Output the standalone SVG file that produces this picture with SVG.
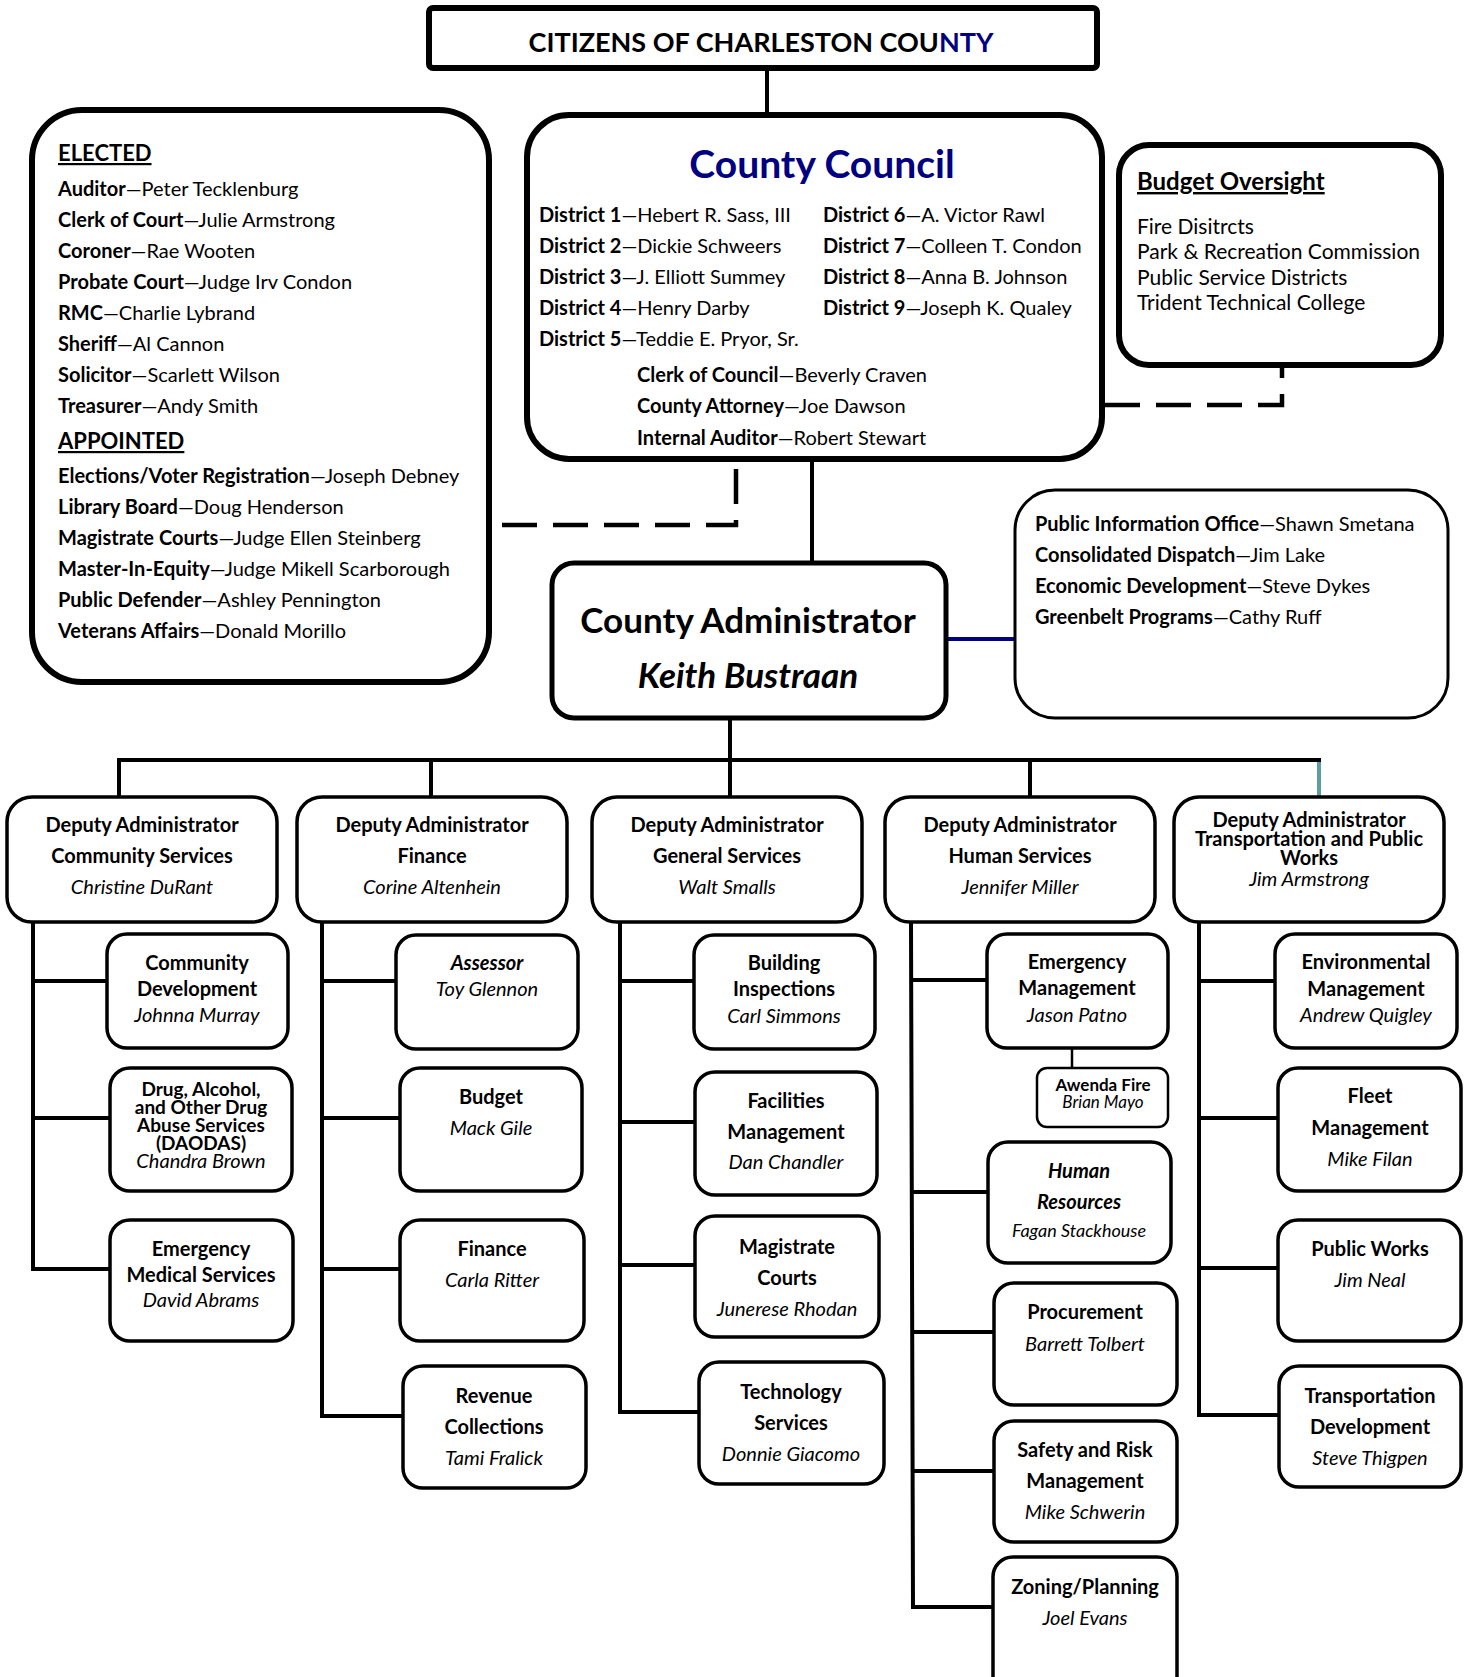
<svg xmlns="http://www.w3.org/2000/svg" width="1464" height="1677" viewBox="0 0 1464 1677">
<style>
text{font-family:Lato,"Open Sans","Liberation Sans",sans-serif;fill:#000;font-size:20px}
.b{font-weight:700}
.i{font-style:italic}
.c{text-anchor:middle}
.box{fill:#fff;stroke:#000;stroke-width:3.5}
.big{fill:#fff;stroke:#000;stroke-width:6}
.ln{fill:none;stroke:#000;stroke-width:4}
.dash{fill:none;stroke:#000;stroke-width:4.5;stroke-dasharray:35 16}
.u{text-decoration:underline;font-size:22px;font-weight:700}
.navy{fill:#000080}
.s18{font-size:18px}
.s19{font-size:19px}
.s17{font-size:17px}
</style>
<rect width="1464" height="1677" fill="#fff"/>
<g id="connectors">
<path class="ln" d="M767,68 V115"/>
<path class="ln" d="M812,459 V563"/>
<path class="dash" d="M502,525 H736 V460"/>
<path class="dash" d="M1105,405 H1282 V366"/>
<path d="M946,639 H1015" stroke="#000080" stroke-width="4" fill="none"/>
<path class="ln" d="M730,718 V760"/>
<path class="ln" d="M119,797 V760 H1321"/>
<path class="ln" d="M431,760 V797 M730,760 V797 M1030,760 V797"/>
<path d="M1319,762 V797" stroke="#5f9ea0" stroke-width="4" fill="none"/>
<path class="ln" d="M33,923 V1269 H110 M33,981 H107 M33,1118 H110"/>
<path class="ln" d="M322,923 V1416 H403 M322,981 H396 M322,1118 H400 M322,1269 H400"/>
<path class="ln" d="M620,923 V1412 H699 M620,981 H694 M620,1122 H695 M620,1265 H695"/>
<path class="ln" d="M911,923 L913,1607 H993 M911,980 H987 M912,1192 H988 M912,1332 H994 M913,1471 H994"/>
<path d="M1072,1048 V1068" stroke="#000" stroke-width="2.5" fill="none"/>
<path class="ln" d="M1199,923 V1415 H1279 M1199,981 H1275 M1199,1118 H1278 M1199,1268 H1278"/>
</g>
<g id="citizens">
<rect class="big" x="429" y="8" width="668" height="60" rx="4"/>
<text class="b c" x="761" y="52" style="font-size:27px">CITIZENS OF CHARLESTON COU<tspan class="navy">NTY</tspan></text>
</g>
<g id="elected">
<rect class="big" x="32" y="110" width="457" height="572" rx="50"/>
<text class="u" x="58" y="161">ELECTED</text>
<text x="58" y="196"><tspan class="b">Auditor</tspan>—Peter Tecklenburg</text>
<text x="58" y="227"><tspan class="b">Clerk of Court</tspan>—Julie Armstrong</text>
<text x="58" y="258"><tspan class="b">Coroner</tspan>—Rae Wooten</text>
<text x="58" y="289"><tspan class="b">Probate Court</tspan>—Judge Irv Condon</text>
<text x="58" y="320"><tspan class="b">RMC</tspan>—Charlie Lybrand</text>
<text x="58" y="351"><tspan class="b">Sheriff</tspan>—Al Cannon</text>
<text x="58" y="382"><tspan class="b">Solicitor</tspan>—Scarlett Wilson</text>
<text x="58" y="413"><tspan class="b">Treasurer</tspan>—Andy Smith</text>
<text class="u" x="58" y="449">APPOINTED</text>
<text x="58" y="483"><tspan class="b">Elections/Voter Registration</tspan>—Joseph Debney</text>
<text x="58" y="514"><tspan class="b">Library Board</tspan>—Doug Henderson</text>
<text x="58" y="545"><tspan class="b">Magistrate Courts</tspan>—Judge Ellen Steinberg</text>
<text x="58" y="576"><tspan class="b">Master-In-Equity</tspan>—Judge Mikell Scarborough</text>
<text x="58" y="607"><tspan class="b">Public Defender</tspan>—Ashley Pennington</text>
<text x="58" y="638"><tspan class="b">Veterans Affairs</tspan>—Donald Morillo</text>
</g>
<g id="council">
<rect class="big" x="527" y="115" width="575" height="344" rx="42"/>
<text class="b c navy" x="822" y="178" style="font-size:39px">County Council</text>
<text x="539" y="222"><tspan class="b">District 1</tspan>—Hebert R. Sass, III</text>
<text x="539" y="253"><tspan class="b">District 2</tspan>—Dickie Schweers</text>
<text x="539" y="284"><tspan class="b">District 3</tspan>—J. Elliott Summey</text>
<text x="539" y="315"><tspan class="b">District 4</tspan>—Henry Darby</text>
<text x="539" y="346"><tspan class="b">District 5</tspan>—Teddie E. Pryor,  Sr.</text>
<text x="823" y="222"><tspan class="b">District 6</tspan>—A. Victor Rawl</text>
<text x="823" y="253"><tspan class="b">District 7</tspan>—Colleen T. Condon</text>
<text x="823" y="284"><tspan class="b">District 8</tspan>—Anna B. Johnson</text>
<text x="823" y="315"><tspan class="b">District 9</tspan>—Joseph K. Qualey</text>
<text x="637" y="382"><tspan class="b">Clerk of Council</tspan>—Beverly Craven</text>
<text x="637" y="413"><tspan class="b">County Attorney</tspan>—Joe Dawson</text>
<text x="637" y="445"><tspan class="b">Internal Auditor</tspan>—Robert Stewart</text>
</g>
<g id="budget-oversight">
<rect class="big" x="1119" y="145" width="322" height="220" rx="30"/>
<text class="u" x="1137" y="190" style="font-size:24px">Budget Oversight</text>
<text x="1137" y="234" style="font-size:21px">Fire Disitrcts</text>
<text x="1137" y="259" style="font-size:21px">Park &amp; Recreation Commission</text>
<text x="1137" y="285" style="font-size:21px">Public Service Districts</text>
<text x="1137" y="310" style="font-size:21px">Trident Technical College</text>
</g>
<g id="administrator">
<rect class="box" x="552" y="563" width="394" height="155" rx="22" style="stroke-width:5"/>
<text class="b c" x="748" y="633" style="font-size:35px">County Administrator</text>
<text class="b i c" x="748" y="688" style="font-size:35px">Keith Bustraan</text>
</g>
<g id="staff-offices">
<rect class="box" x="1015" y="490" width="433" height="228" rx="40" style="stroke-width:3"/>
<text x="1035" y="531"><tspan class="b">Public Information Office</tspan>—Shawn Smetana</text>
<text x="1035" y="562"><tspan class="b">Consolidated Dispatch</tspan>—Jim Lake</text>
<text x="1035" y="593"><tspan class="b">Economic Development</tspan>—Steve Dykes</text>
<text x="1035" y="624"><tspan class="b">Greenbelt Programs</tspan>—Cathy Ruff</text>
</g>
<g id="deputy-community">
<rect class="box" x="7" y="797" width="270" height="125" rx="25"/>
<text class="b c" x="142" y="832">Deputy Administrator</text>
<text class="b c" x="142" y="863">Community Services</text>
<text class="i c" x="142" y="894">Christine DuRant</text>
</g>
<g id="deputy-finance">
<rect class="box" x="297" y="797" width="270" height="125" rx="25"/>
<text class="b c" x="432" y="832">Deputy Administrator</text>
<text class="b c" x="432" y="863">Finance</text>
<text class="i c" x="432" y="894">Corine Altenhein</text>
</g>
<g id="deputy-general">
<rect class="box" x="592" y="797" width="270" height="125" rx="25"/>
<text class="b c" x="727" y="832">Deputy Administrator</text>
<text class="b c" x="727" y="863">General Services</text>
<text class="i c" x="727" y="894">Walt Smalls</text>
</g>
<g id="deputy-human">
<rect class="box" x="885" y="797" width="270" height="125" rx="25"/>
<text class="b c" x="1020" y="832">Deputy Administrator</text>
<text class="b c" x="1020" y="863">Human Services</text>
<text class="i c" x="1020" y="894">Jennifer Miller</text>
</g>
<g id="deputy-transportation">
<rect class="box" x="1174" y="797" width="270" height="125" rx="25"/>
<text class="b c" x="1309" y="827">Deputy Administrator</text>
<text class="b c" x="1309" y="846">Transportation and Public</text>
<text class="b c" x="1309" y="865">Works</text>
<text class="i c" x="1309" y="886">Jim Armstrong</text>
</g>
<g id="community-development">
<rect class="box" x="107" y="934" width="181" height="114" rx="20"/>
<text class="b c" x="197" y="970">Community</text>
<text class="b c" x="197" y="996">Development</text>
<text class="i c" x="197" y="1022">Johnna Murray</text>
</g>
<g id="daodas">
<rect class="box" x="110" y="1068" width="182" height="123" rx="20"/>
<text class="b c s19" x="201" y="1096">Drug, Alcohol,</text>
<text class="b c s19" x="201" y="1114">and Other Drug</text>
<text class="b c s19" x="201" y="1132">Abuse Services</text>
<text class="b c s19" x="201" y="1150">(DAODAS)</text>
<text class="i c" x="201" y="1168">Chandra Brown</text>
</g>
<g id="ems">
<rect class="box" x="110" y="1220" width="183" height="121" rx="20"/>
<text class="b c" x="201" y="1256">Emergency</text>
<text class="b c" x="201" y="1282">Medical Services</text>
<text class="i c" x="201" y="1307">David Abrams</text>
</g>
<g id="assessor">
<rect class="box" x="396" y="935" width="182" height="114" rx="20"/>
<text class="b i c" x="487" y="970">Assessor</text>
<text class="i c" x="487" y="996">Toy Glennon</text>
</g>
<g id="budget">
<rect class="box" x="400" y="1068" width="182" height="123" rx="20"/>
<text class="b c" x="491" y="1104">Budget</text>
<text class="i c" x="491" y="1135">Mack Gile</text>
</g>
<g id="finance">
<rect class="box" x="400" y="1220" width="184" height="121" rx="20"/>
<text class="b c" x="492" y="1256">Finance</text>
<text class="i c" x="492" y="1287">Carla Ritter</text>
</g>
<g id="revenue">
<rect class="box" x="403" y="1366" width="183" height="122" rx="20"/>
<text class="b c" x="494" y="1403">Revenue</text>
<text class="b c" x="494" y="1434">Collections</text>
<text class="i c" x="494" y="1465">Tami Fralick</text>
</g>
<g id="building">
<rect class="box" x="694" y="935" width="181" height="114" rx="20"/>
<text class="b c" x="784" y="970">Building</text>
<text class="b c" x="784" y="996">Inspections</text>
<text class="i c" x="784" y="1023">Carl Simmons</text>
</g>
<g id="facilities">
<rect class="box" x="695" y="1072" width="182" height="123" rx="20"/>
<text class="b c" x="786" y="1108">Facilities</text>
<text class="b c" x="786" y="1139">Management</text>
<text class="i c" x="786" y="1169">Dan Chandler</text>
</g>
<g id="magistrate">
<rect class="box" x="695" y="1216" width="184" height="121" rx="20"/>
<text class="b c" x="787" y="1254">Magistrate</text>
<text class="b c" x="787" y="1285">Courts</text>
<text class="i c" x="787" y="1316">Junerese Rhodan</text>
</g>
<g id="technology">
<rect class="box" x="699" y="1362" width="185" height="122" rx="20"/>
<text class="b c" x="791" y="1399">Technology</text>
<text class="b c" x="791" y="1430">Services</text>
<text class="i c" x="791" y="1461">Donnie Giacomo</text>
</g>
<g id="emergency-management">
<rect class="box" x="987" y="934" width="181" height="114" rx="20"/>
<text class="b c" x="1077" y="969">Emergency</text>
<text class="b c" x="1077" y="995">Management</text>
<text class="i c" x="1077" y="1022">Jason Patno</text>
</g>
<g id="awenda">
<rect class="box" x="1037" y="1068" width="131" height="59" rx="10" style="stroke-width:2.5"/>
<text class="b c s17" x="1103" y="1091">Awenda Fire</text>
<text class="i c s17" x="1103" y="1108">Brian Mayo</text>
</g>
<g id="human-resources">
<rect class="box" x="988" y="1142" width="183" height="121" rx="20"/>
<text class="b i c" x="1079" y="1178">Human</text>
<text class="b i c" x="1079" y="1209">Resources</text>
<text class="i c s18" x="1079" y="1237">Fagan Stackhouse</text>
</g>
<g id="procurement">
<rect class="box" x="994" y="1283" width="183" height="122" rx="20"/>
<text class="b c" x="1085" y="1319">Procurement</text>
<text class="i c" x="1085" y="1351">Barrett Tolbert</text>
</g>
<g id="safety">
<rect class="box" x="994" y="1421" width="183" height="121" rx="20"/>
<text class="b c" x="1085" y="1457">Safety and Risk</text>
<text class="b c" x="1085" y="1488">Management</text>
<text class="i c" x="1085" y="1519">Mike Schwerin</text>
</g>
<g id="zoning">
<rect class="box" x="993" y="1557" width="184" height="140" rx="20"/>
<text class="b c" x="1085" y="1594">Zoning/Planning</text>
<text class="i c" x="1085" y="1625">Joel Evans</text>
</g>
<g id="environmental">
<rect class="box" x="1275" y="934" width="182" height="114" rx="20"/>
<text class="b c" x="1366" y="969">Environmental</text>
<text class="b c" x="1366" y="996">Management</text>
<text class="i c" x="1366" y="1022">Andrew Quigley</text>
</g>
<g id="fleet">
<rect class="box" x="1278" y="1068" width="183" height="123" rx="20"/>
<text class="b c" x="1370" y="1103">Fleet</text>
<text class="b c" x="1370" y="1135">Management</text>
<text class="i c" x="1370" y="1166">Mike Filan</text>
</g>
<g id="public-works">
<rect class="box" x="1278" y="1220" width="183" height="121" rx="20"/>
<text class="b c" x="1370" y="1256">Public Works</text>
<text class="i c" x="1370" y="1287">Jim Neal</text>
</g>
<g id="transportation-development">
<rect class="box" x="1279" y="1366" width="182" height="121" rx="20"/>
<text class="b c" x="1370" y="1403">Transportation</text>
<text class="b c" x="1370" y="1434">Development</text>
<text class="i c" x="1370" y="1465">Steve Thigpen</text>
</g>
</svg>
